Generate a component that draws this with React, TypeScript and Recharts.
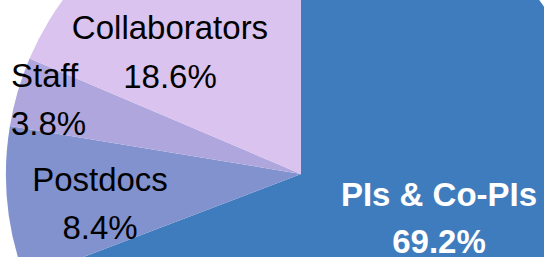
import { PieChart, Pie, Cell } from "recharts";

const groups = ["PIs & Co-PIs", "Postdocs", "Staff", "Collaborators"];
const shares = [69.2, 8.4, 3.8, 18.6];
const colors = ["#3F7CBD", "#8192CF", "#AEA6DC", "#DAC3EE"];

const data = groups.map((name, i) => ({ name, value: shares[i] }));

// where each label sits (x, first baseline, line gap, anchor, bold, color)
const labelLayout = [
  { x: 439, y: 206, gap: 47, anchor: "middle", bold: true, fill: "#ffffff" },
  { x: 100, y: 191, gap: 48, anchor: "middle", bold: false, fill: "#000000" },
  { x: 11, y: 87, gap: 48, anchor: "start", bold: false, fill: "#000000" },
  { x: 170, y: 39, gap: 49, anchor: "middle", bold: false, fill: "#000000" },
];

function renderLabel(props: any) {
  const { index, name, percent } = props;
  const l = labelLayout[index];
  const pct = (percent * 100).toFixed(1) + "%";
  return (
    <text
      x={l.x}
      y={l.y}
      textAnchor={l.anchor}
      fill={l.fill}
      fontSize={33}
      fontWeight={l.bold ? "bold" : "normal"}
      fontFamily="'Liberation Sans', Arial, sans-serif"
    >
      <tspan x={l.x}>{name}</tspan>
      <tspan x={l.x} dy={l.gap}>
        {pct}
      </tspan>
    </text>
  );
}

export default function App() {
  return (
    <div
      style={{
        position: "fixed",
        left: 0,
        top: 0,
        width: 544,
        height: 257,
        overflow: "hidden",
        background: "#ffffff",
      }}
    >
      <PieChart width={544} height={257} margin={{ top: 0, right: 0, bottom: 0, left: 0 }}>
        <Pie
          data={data}
          dataKey="value"
          nameKey="name"
          cx={301}
          cy={174}
          outerRadius={295}
          startAngle={90}
          endAngle={-270}
          stroke="none"
          label={renderLabel}
          labelLine={false}
          isAnimationActive={false}
        >
          {data.map((d, i) => (
            <Cell key={d.name} fill={colors[i]} />
          ))}
        </Pie>
      </PieChart>
    </div>
  );
}
